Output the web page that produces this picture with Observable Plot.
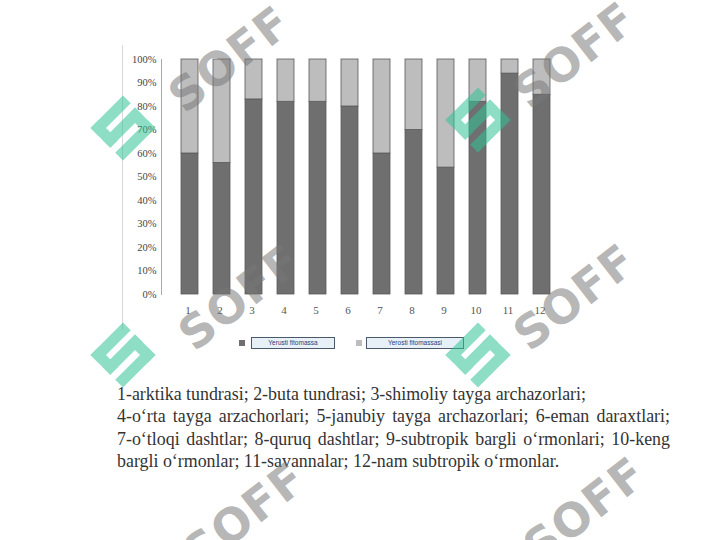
<!DOCTYPE html>
<html>
<head>
<meta charset="utf-8">
<script src="https://cdn.jsdelivr.net/npm/d3@7"></script>
<script src="https://cdn.jsdelivr.net/npm/@observablehq/plot@0.6"></script>
<style>
  html, body { margin: 0; padding: 0; background: #fff; width: 720px; height: 540px; overflow: hidden; position: relative; }
  #chart { position: absolute; left: 0; top: 0; }
  #chart svg text { font-family: "Liberation Serif", "Times New Roman", "DejaVu Serif", serif; }
  #frame { position: absolute; left: 122px; top: 45px; width: 0; height: 285px; border-left: 1px solid #d8d8d8; }
  .leg { position: absolute; top: 337px; height: 10px; font-family: "Liberation Sans", sans-serif; font-size: 6.5px; color: #2a3f7a; line-height: 10px; text-align: center; background: #e6f0f6; border: 1px solid #4a5a6a; }
  .sw { position: absolute; top: 340px; width: 6px; height: 6px; }
  #caption { position: absolute; left: 117px; top: 383px; width: 553px; font-family: "Liberation Serif", "Times New Roman", "DejaVu Serif", serif; font-size: 17.9px; line-height: 22.3px; color: #333; text-align: justify; }
  #caption span { white-space: nowrap; }
  .wm { position: absolute; font-family: "DejaVu Sans", sans-serif; font-weight: bold; font-size: 46px; color: rgba(120,120,120,0.55); transform: rotate(-38deg); transform-origin: center; white-space: nowrap; letter-spacing: 1px; }
  .logo { position: absolute; width: 46px; height: 46px; transform: rotate(-45deg); opacity: 0.55; }
  .logo div { position: absolute; background: rgb(50,195,150); }
</style>
</head>
<body>
<div id="frame"></div>
<div id="chart"></div>
<div class="sw" style="left:239px;background:#6f6f6f;"></div>
<div class="leg" style="left:251px;width:82px;" id="leg1"></div>
<div class="sw" style="left:356px;background:#bdbdbd;"></div>
<div class="leg" style="left:366px;width:96px;" id="leg2"></div>
<div id="caption"><span>1-arktika</span> tundrasi; <span>2-buta</span> tundrasi; <span>3-shimoliy</span> tayga archazorlari;<br><span>4-o‘rta</span> tayga arzachorlari; <span>5-janubiy</span> tayga archazorlari; <span>6-eman</span> daraxtlari; <span>7-o‘tloqi</span> dashtlar; <span>8-quruq</span> dashtlar; <span>9-subtropik</span> bargli o‘rmonlari; <span>10-keng</span> bargli o‘rmonlar; <span>11-savannalar;</span> <span>12-nam</span> subtropik o‘rmonlar.</div>
<script>
const categories = ["1","2","3","4","5","6","7","8","9","10","11","12"];
const seriesNames = ["Yerusti fitomassa", "Yerosti fitomassasi"];
const aboveValues = [60, 56, 83, 82, 82, 80, 60, 70, 54, 82, 94, 85];
const belowValues = [40, 44, 17, 18, 18, 20, 40, 30, 46, 18, 6, 15];
const yTicks = [0,10,20,30,40,50,60,70,80,90,100];
const seriesColors = ["#6f6f6f", "#bdbdbd"];

const rows = [];
categories.forEach((c, i) => {
  rows.push({cat: c, series: seriesNames[0], value: aboveValues[i]});
  rows.push({cat: c, series: seriesNames[1], value: belowValues[i]});
});

const plot = Plot.plot({
  width: 720,
  height: 330,
  marginTop: 59,
  marginBottom: 36,
  marginLeft: 161,
  marginRight: 149,
  style: "background: transparent;",
  x: {domain: categories, padding: 0.46, label: null},
  y: {domain: [0, 100], label: null},
  color: {domain: seriesNames, range: seriesColors},
  marks: [
    Plot.frame({anchor: "left", stroke: "#aaa"}),
    Plot.barY(rows, Plot.stackY({x: "cat", y: "value", fill: "series", order: seriesNames, stroke: "#5a5a5a", strokeWidth: 0.8, inset: 0})),
    Plot.axisY({ticks: yTicks, tickSize: 0, tickPadding: 5, tickFormat: d => d + "%", fontSize: 10.5, fill: "#444"}),
    Plot.axisX({tickSize: 0, tickPadding: 12, fontSize: 11, fill: "#555", dx: -2})
  ]
});
document.getElementById("chart").appendChild(plot);
document.getElementById("leg1").textContent = seriesNames[0];
document.getElementById("leg2").textContent = seriesNames[1];

// watermarks
const wms = [[160, 32], [505, 28], [170, 270], [505, 270], [175, 488], [515, 483]];
wms.forEach(([x, y]) => {
  const d = document.createElement("div");
  d.className = "wm"; d.textContent = "SOFF";
  d.style.left = x + "px"; d.style.top = y + "px";
  document.body.appendChild(d);
});
const logos = [[100, 105], [455, 97], [100, 332], [455, 332]];
const sParts = [[0,0,46,11],[0,0,11,28],[0,17,46,11],[35,17,11,29],[0,35,46,11]];
logos.forEach(([x, y]) => {
  const l = document.createElement("div");
  l.className = "logo"; l.style.left = x + "px"; l.style.top = y + "px";
  l.innerHTML = sParts.map(([a,b,w,h]) => `<div style="left:${a}px;top:${b}px;width:${w}px;height:${h}px"></div>`).join("");
  document.body.appendChild(l);
});
</script>
</body>
</html>
